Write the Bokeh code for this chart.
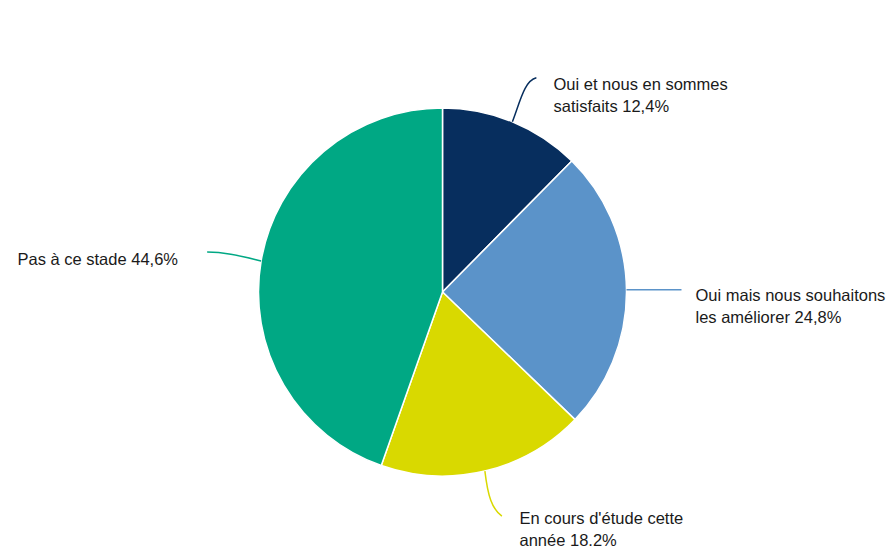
import math
from bokeh.plotting import figure
from bokeh.models import Range1d, ColumnDataSource
from bokeh.core.properties import value
from bokeh.embed import file_html
from bokeh.resources import INLINE

# ---- data ----
categories = ["Oui et nous en sommes satisfaits", "Oui mais nous souhaitons les améliorer",
              "En cours d'étude cette année", "Pas à ce stade"]
shares = [12.4, 24.8, 18.2, 44.6]
label_lines = [
    ["Oui et nous en sommes", "satisfaits 12,4%"],
    ["Oui mais nous souhaitons", "les améliorer 24,8%"],
    ["En cours d'étude cette", "année 18.2%"],
    ["Pas à ce stade 44,6%"],
]
colors = ["#072e5e", "#5b93c9", "#d9d900", "#00a884"]

# ---- layout (screen pixel coordinates -> data) ----
W, H = 891, 548
def Y(sy):
    return H - sy

cx, cy, R = 442, Y(291.5), 184

p = figure(width=W, height=H, x_range=Range1d(0, W), y_range=Range1d(0, H),
           output_backend="svg", toolbar_location=None,
           x_axis_location=None, y_axis_location=None, min_border=0)
p.outline_line_color = None
p.xgrid.visible = False
p.ygrid.visible = False

total = sum(shares)
starts, ends, mids = [], [], []
cum = 0.0
for s in shares:
    a0 = math.pi / 2 - 2 * math.pi * cum / total
    cum += s
    a1 = math.pi / 2 - 2 * math.pi * cum / total
    starts.append(a0)
    ends.append(a1)
    mids.append((a0 + a1) / 2)

src = ColumnDataSource(dict(x=[cx] * 4, y=[cy] * 4, start=starts, end=ends, color=colors))
p.wedge(x="x", y="y", radius=R, start_angle="start", end_angle="end", direction="clock",
        fill_color="color", line_color="white", line_width=1.5, source=src)

# leader lines: start on slice edge at mid angle, then offsets to label
leader_ctrl = [
    [(8, -21), (12, -41), (24, -44)],
    [(20, 0), (40, 0), (55, 0)],
    [(3, 25), (7, 38), (17, 45)],
    [(-21, -5), (-36, -9), (-54, -9)],
]
for m, ctrl, col in zip(mids, leader_ctrl, colors):
    sx = cx + R * math.cos(m)
    sy_scr = H - (cy + R * math.sin(m))
    (c0x, c0y), (c1x, c1y), (ex, ey) = ctrl
    p.bezier(x0=[sx], y0=[Y(sy_scr)], x1=[sx + ex], y1=[Y(sy_scr + ey)],
             cx0=[sx + c0x], cy0=[Y(sy_scr + c0y)], cx1=[sx + c1x], cy1=[Y(sy_scr + c1y)],
             line_color=col, line_width=1.5)

# label positions (screen px of first line)
label_pos = [(553, 83), (695, 294), (519, 517), (17, 258)]
line_gap = 22
tx, ty, tt = [], [], []
for (lx, ly), lines in zip(label_pos, label_lines):
    for i, t in enumerate(lines):
        tx.append(lx)
        ty.append(Y(ly + i * line_gap))
        tt.append(t)
p.text(x=tx, y=ty, text=tt, text_font=value("Liberation Sans"), text_font_size="16.5px",
       text_color="#1a1a1a", text_baseline="middle", text_align="left")

open("out.html", "w").write(file_html(p, INLINE))
